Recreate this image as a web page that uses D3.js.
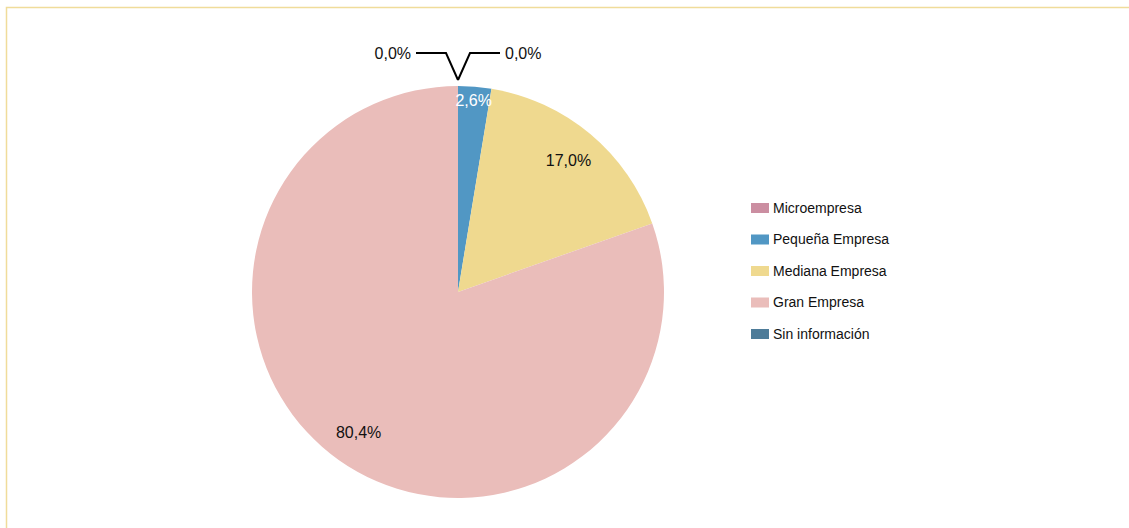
<!DOCTYPE html>
<html lang="es">
<head>
    <meta charset="UTF-8">
    <title>Distribución por tamaño de empresa</title>
    <script src="https://d3js.org/d3.v7.min.js"></script>
    <style>
        body { margin: 0; background: #fff; }
        text { font-family: "Liberation Sans", Arial, sans-serif; }
    </style>
</head>
<body>
    <script>
        // datos
        const categories = ["Microempresa", "Pequeña Empresa", "Mediana Empresa", "Gran Empresa", "Sin información"];
        const values = [0.0, 2.6, 17.0, 80.4, 0.0];
        const labels = ["0,0%", "2,6%", "17,0%", "80,4%", "0,0%"];
        const colors = ["#cb8ea1", "#5197c4", "#efd98f", "#eabdba", "#4e7c99"];

        const width = 1129, height = 528;
        const cx = 458, cy = 292, r = 206;

        const svg = d3.select("body").append("svg")
            .attr("width", width)
            .attr("height", height);

        // marco
        svg.append("path")
            .attr("d", `M6.5,${height} V7.5 H${width}`)
            .attr("fill", "none")
            .attr("stroke", "#f0dc9a")
            .attr("stroke-width", 1.5);

        const data = categories.map((c, i) => ({ cat: c, value: values[i], label: labels[i], color: colors[i] }));

        const pie = d3.pie().sort(null).value(d => d.value);
        const arcs = pie(data);
        const arc = d3.arc().innerRadius(0).outerRadius(r);

        const g = svg.append("g").attr("transform", `translate(${cx},${cy})`);

        g.selectAll("path.slice")
            .data(arcs.filter(d => d.data.value > 0))
            .join("path")
            .attr("class", "slice")
            .attr("d", arc)
            .attr("fill", d => d.data.color);

        // etiquetas de porcentaje
        const labelArc = d3.arc().innerRadius(172).outerRadius(172);
        const smallArc = d3.arc().innerRadius(192).outerRadius(192);
        g.selectAll("text.pct")
            .data(arcs.filter(d => d.data.value > 0))
            .join("text")
            .attr("class", "pct")
            .attr("transform", d => {
                const p = (d.data.value < 5 ? smallArc : labelArc).centroid(d);
                return `translate(${p[0]},${p[1]})`;
            })
            .attr("text-anchor", "middle")
            .attr("dy", "0.35em")
            .attr("font-size", 16)
            .attr("fill", d => d.data.value < 5 ? "#fff" : "#111")
            .text(d => d.data.label);

        // etiquetas de sectores vacíos con líneas guía
        const zero = arcs.filter(d => d.data.value === 0);
        zero.forEach(d => {
            const side = d.index === 0 ? 1 : -1;
            const a = d.startAngle;
            const x0 = (r + 6) * Math.sin(a), y0 = -(r + 6) * Math.cos(a);
            const y1 = y0 - 27;
            const pts = [[x0, y0], [x0 + side * 12, y1], [x0 + side * 42, y1]];
            g.append("path")
                .attr("d", d3.line()(pts))
                .attr("fill", "none")
                .attr("stroke", "#000")
                .attr("stroke-width", 2);
            g.append("text")
                .attr("x", x0 + side * 47)
                .attr("y", y1)
                .attr("dy", "0.35em")
                .attr("text-anchor", side > 0 ? "start" : "end")
                .attr("font-size", 16)
                .attr("fill", "#111")
                .text(d.data.label);
        });

        // leyenda
        const legend = svg.append("g").attr("transform", "translate(751,208)");
        const item = legend.selectAll("g")
            .data(data)
            .join("g")
            .attr("transform", (d, i) => `translate(0,${i * 31.5})`);
        item.append("rect")
            .attr("x", 0).attr("y", -5)
            .attr("width", 18).attr("height", 10)
            .attr("fill", d => d.color);
        item.append("text")
            .attr("x", 22).attr("y", 0)
            .attr("dy", "0.35em")
            .attr("font-size", 14)
            .attr("fill", "#111")
            .text(d => d.cat);
    </script>
</body>
</html>
